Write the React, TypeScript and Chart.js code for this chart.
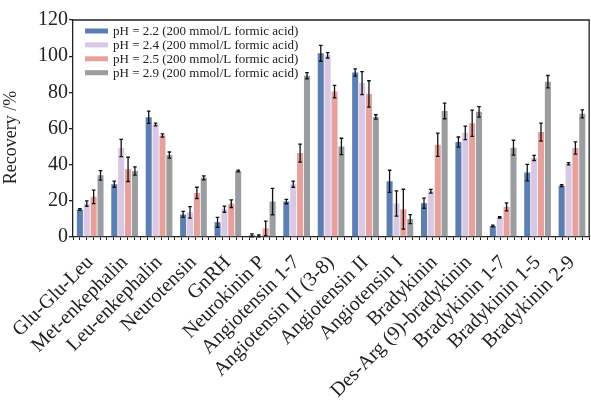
import React, { useEffect, useRef } from "react";
import { Chart, registerables } from "chart.js";

Chart.register(...registerables);

const categories = [
  "Glu-Glu-Leu",
  "Met-enkephalin",
  "Leu-enkephalin",
  "Neurotensin",
  "GnRH",
  "Neurokinin P",
  "Angiotensin 1-7",
  "Angiotensin II (3-8)",
  "Angiotensin II",
  "Angiotensin I",
  "Bradykinin",
  "Des-Arg (9)-bradykinin",
  "Bradykinin 1-7",
  "Bradykinin 1-5",
  "Bradykinin 2-9",
];

const seriesLabels = [
  "pH = 2.2 (200 mmol/L formic acid)",
  "pH = 2.4 (200 mmol/L formic acid)",
  "pH = 2.5 (200 mmol/L formic acid)",
  "pH = 2.9 (200 mmol/L formic acid)",
];

const ph22 = [15.2, 29.2, 66.2, 12.5, 8.1, 0.9, 19.6, 101.6, 91.0, 30.8, 18.7, 52.5, 6.1, 35.6, 28.4];
const ph22Err = [0.5, 1.7, 3.4, 1.7, 2.7, 0.8, 1.2, 4.4, 2.0, 6.1, 2.8, 2.8, 0.5, 4.6, 0.5];
const ph24 = [18.5, 49.2, 62.2, 13.6, 15.4, 0.6, 29.2, 100.5, 85.1, 18.5, 25.3, 57.6, 10.8, 43.7, 40.5];
const ph24Err = [1.5, 4.8, 0.8, 3.2, 1.7, 0.5, 1.7, 1.5, 6.4, 7.0, 1.0, 3.7, 0.4, 1.4, 0.6];
const ph25 = [22.2, 37.4, 56.1, 24.4, 18.4, 4.8, 46.4, 80.4, 79.1, 15.4, 51.0, 62.9, 16.7, 58.0, 49.2];
const ph25Err = [3.7, 6.7, 0.9, 3.1, 2.1, 4.0, 5.0, 3.4, 7.3, 11.0, 6.4, 7.3, 2.2, 5.0, 3.4];
const ph29 = [34.1, 36.5, 45.3, 32.7, 36.5, 19.6, 89.2, 50.1, 66.4, 9.9, 69.7, 69.2, 49.4, 85.9, 68.1];
const ph29Err = [2.6, 2.3, 1.7, 1.1, 0.5, 7.3, 1.7, 4.5, 1.2, 2.5, 4.3, 2.9, 4.1, 3.4, 2.2];

const yTicks = [0, 20, 40, 60, 80, 100, 120];

const colors = ["#5d7eb1", "#d9c7e3", "#e6a19d", "#9b9da0"];
const seriesValues = [ph22, ph24, ph25, ph29];
const seriesErrors = [ph22Err, ph24Err, ph25Err, ph29Err];

const FONT = "'Liberation Serif', 'Times New Roman', serif";
const INK = "#222222";

const errorBarPlugin = {
  id: "errorBars",
  afterDatasetsDraw(chart: any) {
    const ctx = chart.ctx;
    const yScale = chart.scales.y;
    const area = chart.chartArea;
    ctx.save();
    ctx.strokeStyle = "#111111";
    ctx.lineWidth = 1.3;
    chart.data.datasets.forEach((ds: any, i: number) => {
      const meta = chart.getDatasetMeta(i);
      const errs = seriesErrors[i];
      meta.data.forEach((bar: any, j: number) => {
        const v = ds.data[j];
        const e = errs[j];
        const x = bar.x;
        const yt = Math.max(area.top, yScale.getPixelForValue(v + e));
        const yb = Math.min(area.bottom, yScale.getPixelForValue(v - e));
        const cap = 1.8;
        ctx.beginPath();
        ctx.moveTo(x, yt);
        ctx.lineTo(x, yb);
        ctx.moveTo(x - cap, yt);
        ctx.lineTo(x + cap, yt);
        ctx.moveTo(x - cap, yb);
        ctx.lineTo(x + cap, yb);
        ctx.stroke();
      });
    });
    ctx.restore();
  },
};

const framePlugin = {
  id: "frame",
  afterDraw(chart: any) {
    const { ctx, chartArea } = chart;
    ctx.save();
    ctx.strokeStyle = INK;
    ctx.lineWidth = 1.3;
    ctx.beginPath();
    ctx.moveTo(chartArea.left, chartArea.top);
    ctx.lineTo(chartArea.right, chartArea.top);
    ctx.lineTo(chartArea.right, chartArea.bottom);
    ctx.stroke();
    ctx.restore();
  },
};

const legendPlugin = {
  id: "insideLegend",
  afterDraw(chart: any) {
    const { ctx, chartArea } = chart;
    ctx.save();
    ctx.font = `13px ${FONT}`;
    ctx.textBaseline = "middle";
    ctx.textAlign = "left";
    chart.data.datasets.forEach((ds: any, i: number) => {
      const cy = chartArea.top + 11 + i * 13.9;
      const bx = chartArea.left + 12;
      ctx.fillStyle = ds.backgroundColor;
      ctx.fillRect(bx, cy - 2.5, 23, 5);
      ctx.fillStyle = INK;
      ctx.fillText(ds.label, bx + 28, cy + 0.5);
    });
    ctx.restore();
  },
};

export default function App() {
  const canvasRef = useRef<HTMLCanvasElement | null>(null);

  useEffect(() => {
    document.body.style.margin = "0";
    const canvas = canvasRef.current;
    if (!canvas) return;
    Chart.defaults.font.family = FONT;
    const chart = new Chart(canvas, {
      type: "bar",
      data: {
        labels: categories,
        datasets: seriesValues.map((vals, i) => ({
          label: seriesLabels[i],
          data: vals,
          backgroundColor: colors[i],
          borderWidth: 0,
          categoryPercentage: 0.8,
          barPercentage: 0.88,
          xAxisID: "x",
        })),
      },
      options: {
        responsive: false,
        animation: false,
        layout: { padding: { left: 0, right: 1.5, top: 20, bottom: 0 } },
        plugins: {
          legend: { display: false },
          tooltip: { enabled: false },
        },
        scales: {
          x: {
            type: "category",
            position: "bottom",
            weight: 1,
            grid: { display: false },
            border: { display: false },
            ticks: {
              autoSkip: false,
              maxRotation: 45,
              minRotation: 45,
              padding: 2,
              color: INK,
              font: { size: 20, family: FONT },
            },
            afterFit: (scale: any) => {
              scale.height = 160;
            },
          },
          minor: {
            type: "linear",
            position: "bottom",
            weight: 0,
            min: -0.5,
            max: 74.5,
            grid: {
              drawOnChartArea: false,
              drawTicks: true,
              tickLength: 3,
              color: INK,
              lineWidth: 1,
            },
            border: { display: true, color: INK, width: 1.3 },
            ticks: {
              display: false,
              stepSize: 1,
              maxTicksLimit: 200,
              includeBounds: false,
            },
            afterFit: (scale: any) => {
              scale.height = 4;
            },
          },
          y: {
            min: 0,
            max: 120,
            afterBuildTicks: (scale: any) => {
              scale.ticks = yTicks.map((v) => ({ value: v }));
            },
            grid: {
              drawOnChartArea: false,
              drawTicks: true,
              tickLength: 4,
              color: INK,
              lineWidth: 1.3,
            },
            border: { display: true, color: INK, width: 1.3 },
            ticks: {
              color: INK,
              padding: 1,
              font: { size: 20, family: FONT },
            },
            title: {
              display: true,
              text: "Recovery /%    ",
              color: INK,
              font: { size: 18, family: FONT },
              padding: { top: 0, bottom: 0 },
            },
            afterFit: (scale: any) => {
              scale.width = 73;
            },
          },
        },
      },
      plugins: [errorBarPlugin, framePlugin, legendPlugin],
    });
    return () => chart.destroy();
  }, []);

  return (
    <div style={{ position: "absolute", left: 0, top: 0, width: 591, height: 401 }}>
      <canvas ref={canvasRef} width={591} height={401} />
    </div>
  );
}
